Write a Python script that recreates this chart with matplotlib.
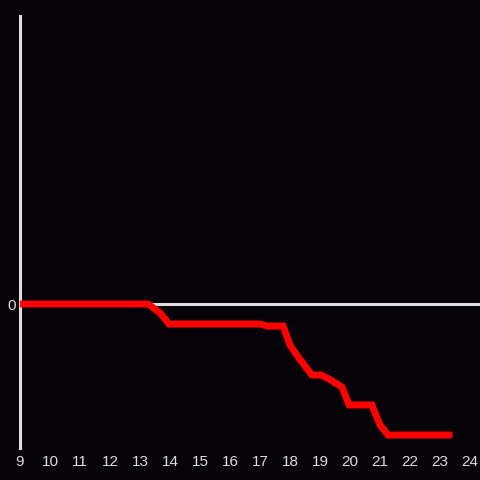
import matplotlib
matplotlib.use('Agg')
from matplotlib import pyplot as plt

# hours of day and running value (arbitrary units, 0 = baseline)
hours = [9.0, 13.27, 13.67, 13.97, 17.0, 17.23, 17.77, 18.0, 18.27, 18.73,
         19.03, 19.3, 19.73, 19.97, 20.73, 21.0, 21.27, 23.3]
values = [0.0, 0.0, -0.63, -1.39, -1.39, -1.53, -1.53, -2.85, -3.68, -4.93,
          -4.93, -5.21, -5.76, -7.01, -7.01, -8.40, -9.10, -9.10]
xticks = list(range(9, 25))

BG = '#050307'
FG = '#dddddd'

plt.rcParams['font.family'] = ['Liberation Sans', 'DejaVu Sans']

fig = plt.figure(figsize=(4.8, 4.8), dpi=100, facecolor=BG)
ax = fig.add_axes([20 / 480, 32 / 480, 460 / 480, 432 / 480], facecolor=BG)

ax.axhline(0, color=FG, lw=2.2, zorder=1)
ax.plot(hours, values, color='#ff0000', lw=5, solid_joinstyle='miter', zorder=3)

ax.set_xlim(9, 9 + 460 / 30)
ax.set_ylim(-10, 20)
ax.set_xticks(xticks)
ax.set_xticklabels([str(t) for t in xticks])
ax.set_yticks([0])
ax.tick_params(axis='both', length=0, colors=FG, labelsize=11)
ax.tick_params(axis='x', pad=5)
ax.tick_params(axis='y', pad=3)

for side in ('top', 'right', 'bottom'):
    ax.spines[side].set_visible(False)
ax.spines['left'].set_color(FG)
ax.spines['left'].set_linewidth(2.2)

fig.savefig('out.png', facecolor=BG)
